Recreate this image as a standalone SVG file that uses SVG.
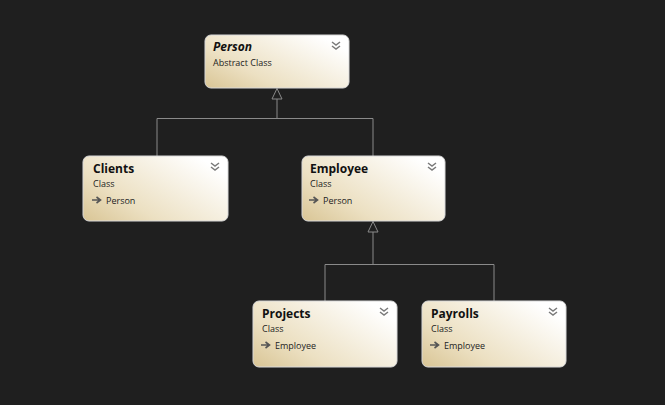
<svg xmlns="http://www.w3.org/2000/svg" width="665" height="405" viewBox="0 0 665 405">
<defs>
<linearGradient id="g" x1="0" y1="1" x2="1" y2="0.3">
<stop offset="0" stop-color="#d9c595"/>
<stop offset="0.35" stop-color="#ece0c2"/>
<stop offset="1" stop-color="#ffffff"/>
</linearGradient>
<g id="chev"><polyline points="-4,-3 0,0 4,-3" fill="none" stroke="#7a7a7a" stroke-width="1.5"/><polyline points="-4,1 0,4 4,1" fill="none" stroke="#7a7a7a" stroke-width="1.5"/></g>
<g id="inh"><path d="M-6,-1 L1.5,-1 M-1.5,-4 L2.5,-1 L-1.5,2" fill="none" stroke="#555" stroke-width="1.6"/></g>
</defs>
<style>
.box{fill:url(#g);stroke:#d8d8d8;stroke-width:1}
.t{font-family:"Open Sans","Liberation Sans",sans-serif;font-size:12px;font-weight:bold;fill:#111}
.s{font-family:"Open Sans","Liberation Sans",sans-serif;font-size:9px;fill:#222}
.c{fill:none;stroke:#8a8a8a;stroke-width:1}
.tri{fill:#1f1f1f;stroke:#8a8a8a;stroke-width:1}
</style>
<rect width="665" height="405" fill="#1f1f1f"/>
<g id="connectors">
<polyline class="c" points="157,156 157,118.5 373,118.5 373,156"/>
<line class="c" x1="277" y1="118.5" x2="277" y2="99"/>
<polygon class="tri" points="277,88.5 272,99 282,99"/>
<polyline class="c" points="325,301 325,264.5 494,264.5 494,301"/>
<line class="c" x1="373" y1="264.5" x2="373" y2="232"/>
<polygon class="tri" points="373,221.5 368,232 378,232"/>
</g>
<g id="person">
<rect class="box" x="205" y="35" width="144" height="53" rx="6"/>
<text class="t" x="213" y="51" font-style="italic">Person</text>
<text class="s" x="213" y="66">Abstract Class</text>
<use href="#chev" x="336" y="45"/>
</g>
<g id="clients">
<rect class="box" x="83" y="156" width="145" height="65" rx="6"/>
<text class="t" x="93" y="173">Clients</text>
<text class="s" x="93" y="187">Class</text>
<use href="#inh" x="98" y="201"/>
<text class="s" x="106" y="204">Person</text>
<use href="#chev" x="215" y="166"/>
</g>
<g id="employee">
<rect class="box" x="302" y="156" width="143" height="65" rx="6"/>
<text class="t" x="310" y="173">Employee</text>
<text class="s" x="310" y="187">Class</text>
<use href="#inh" x="315" y="201"/>
<text class="s" x="323" y="204">Person</text>
<use href="#chev" x="432" y="166"/>
</g>
<g id="projects">
<rect class="box" x="253" y="301" width="144" height="66" rx="6"/>
<text class="t" x="262" y="318">Projects</text>
<text class="s" x="262" y="332">Class</text>
<use href="#inh" x="267" y="346"/>
<text class="s" x="275" y="349">Employee</text>
<use href="#chev" x="384" y="311"/>
</g>
<g id="payrolls">
<rect class="box" x="422" y="301" width="144" height="66" rx="6"/>
<text class="t" x="431" y="318">Payrolls</text>
<text class="s" x="431" y="332">Class</text>
<use href="#inh" x="436" y="346"/>
<text class="s" x="444" y="349">Employee</text>
<use href="#chev" x="553" y="311"/>
</g>
</svg>
